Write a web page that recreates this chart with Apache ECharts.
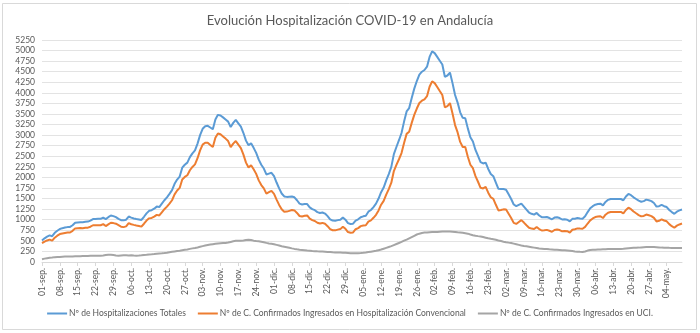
<!DOCTYPE html>
<html>
<head>
<meta charset="utf-8">
<script src="https://cdn.jsdelivr.net/npm/echarts@6/dist/echarts.min.js"></script>
<style>
html,body{margin:0;padding:0;background:#fff;}
#chart{width:700px;height:333px;}
</style>
</head>
<body>
<div id="chart"></div>
<script>
// Category construction: daily dates from 01-sep to 10-may
const monthNames = ['sep','oct','nov','dic','ene','feb','mar','abr','may'];
const monthDays  = [30, 31, 30, 31, 31, 28, 31, 30, 10];

// Weekly tick labels shown on the axis
const tickLabels = ['01-sep.','08-sep.','15-sep.','22-sep.','29-sep.','06-oct.','13-oct.','20-oct.','27-oct.',
  '03-nov.','10-nov.','17-nov.','24-nov.','01-dic.','08-dic.','15-dic.','22-dic.','29-dic.',
  '05-ene.','12-ene.','19-ene.','26-ene.','02-feb.','09-feb.','16-feb.','23-feb.',
  '02-mar.','09-mar.','16-mar.','23-mar.','30-mar.','06-abr.','13-abr.','20-abr.','27-abr.','04-may.'];

const seriesNames = ['Nº de Hospitalizaciones Totales',
  'Nº de C. Confirmados Ingresados en Hospitalización Convencional',
  'Nº de C. Confirmados Ingresados en UCI.'];

const totales = [
510,560,600,630,610,690,740,780,800,815,825,830,870,930,935,940,940,950,955,980,
1015,1015,1020,1020,1050,1015,1060,1100,1085,1060,1020,990,985,1000,1075,1050,1030,1015,1005,995,
1070,1150,1210,1225,1260,1310,1300,1380,1460,1530,1610,1700,1850,1950,2020,2230,2300,2350,2480,2570,
2640,2800,3000,3150,3210,3220,3180,3140,3370,3480,3465,3420,3370,3320,3190,3290,3360,3280,3200,3050,
2870,2760,2810,2700,2580,2420,2300,2210,2070,2090,2110,2030,1880,1740,1620,1550,1540,1545,1550,1530,
1460,1380,1360,1370,1370,1290,1250,1225,1180,1160,1170,1145,1085,1010,980,975,990,1000,1055,1000,
920,900,905,980,1010,1060,1080,1095,1190,1230,1300,1380,1500,1650,1760,1930,2080,2250,2550,2720,
2880,3050,3320,3560,3640,3880,4100,4280,4430,4500,4540,4620,4850,4980,4940,4850,4760,4670,4380,4410,
4480,4230,3950,3770,3540,3410,3400,3160,2950,2850,2650,2510,2360,2330,2350,2200,2080,2030,1880,1730,
1725,1725,1710,1600,1490,1360,1320,1350,1380,1310,1240,1170,1140,1120,1160,1100,1060,1060,1065,1040,
1010,1050,1060,1040,1005,1010,1000,960,1020,1025,1040,1030,1025,1080,1180,1270,1320,1355,1370,1380,
1340,1420,1470,1490,1490,1490,1490,1490,1460,1550,1610,1580,1530,1490,1450,1425,1440,1475,1460,1440,
1395,1310,1320,1350,1320,1300,1230,1180,1140,1190,1220,1240];

const convencional = [
445,480,510,530,505,575,622,660,675,687,695,698,737,795,799,802,800,808,812,835,
869,867,870,870,895,850,890,928,920,905,870,835,825,842,920,893,878,865,853,837,
905,980,1032,1043,1072,1115,1100,1175,1248,1310,1380,1460,1600,1690,1752,1952,2012,2052,2170,2248,
2308,2455,2640,2775,2822,2820,2768,2718,2938,3040,3020,2970,2918,2860,2715,2800,2860,2775,2695,2540,
2350,2233,2290,2195,2084,1930,1820,1742,1618,1650,1680,1610,1475,1350,1248,1190,1192,1210,1228,1220,
1160,1088,1075,1092,1100,1025,990,969,928,910,924,903,847,776,750,748,766,778,835,784,
708,692,700,775,802,848,862,870,955,985,1045,1115,1220,1355,1445,1595,1725,1875,2150,2295,
2430,2575,2815,3030,3080,3290,3480,3630,3760,3814,3845,3920,4145,4272,4230,4138,4042,3948,3656,3686,
3758,3512,3238,3065,2840,2720,2720,2490,2300,2218,2030,1898,1755,1740,1775,1640,1532,1492,1353,1220,
1230,1245,1242,1142,1041,925,900,945,990,932,870,810,790,780,830,780,745,750,760,740,
714,758,770,755,725,735,730,695,762,775,795,790,787,830,910,985,1030,1063,1075,1082,
1040,1118,1165,1183,1182,1180,1185,1185,1148,1230,1285,1250,1195,1152,1110,1080,1090,1123,1106,1086,
1043,960,975,1010,982,962,895,847,810,860,888,909];

const uci = [
65,80,90,100,105,115,118,120,125,128,130,132,133,135,136,138,140,142,143,145,
146,148,150,150,155,165,170,172,165,155,150,155,160,158,155,157,152,150,152,158,
165,170,178,182,188,195,200,205,212,220,230,240,250,260,268,278,288,298,310,322,
332,345,360,375,388,400,412,422,432,440,445,450,452,460,475,490,500,505,505,510,
520,527,520,505,496,490,480,468,452,440,430,420,405,390,372,360,348,335,322,310,
300,292,285,278,270,265,260,256,252,250,246,242,238,234,230,227,224,222,220,216,
212,208,205,205,208,212,218,225,235,245,255,265,280,295,315,335,355,375,400,425,
450,475,505,530,560,590,620,650,670,686,695,700,705,708,710,712,718,722,724,724,
722,718,712,705,700,690,680,670,650,632,620,612,605,590,575,560,548,538,527,510,
495,480,468,458,449,435,420,405,390,378,370,360,350,340,330,320,315,310,305,300,
296,292,290,285,280,275,270,265,258,250,245,240,238,250,270,285,290,292,295,298,
300,302,305,307,308,310,305,305,312,320,325,330,335,338,340,345,350,352,354,354,
352,350,345,340,338,338,335,333,330,330,332,331];

const categories = [];
monthNames.forEach((m, mi) => {
  for (let d = 1; d <= monthDays[mi]; d++) {
    categories.push((d < 10 ? '0' + d : '' + d) + '-' + m + '.');
  }
});

const FONT = 'Lato';
const TXT = '#595959';
const chart = echarts.init(document.getElementById('chart'), null, {renderer: 'canvas'});
chart.setOption({
  backgroundColor: '#ffffff',
  animation: false,
  textStyle: {fontFamily: FONT},
  graphic: [{
    type: 'rect', shape: {x: 2.5, y: 3.5, width: 694, height: 326},
    style: {fill: 'none', stroke: '#d9d9d9', lineWidth: 1}, z: -1
  }],
  title: {
    text: 'Evolución Hospitalización COVID-19 en Andalucía',
    left: 'center', top: 9,
    textStyle: {fontFamily: FONT, fontSize: 13, fontWeight: 'normal', color: TXT}
  },
  legend: {
    bottom: 10, left: 'center',
    icon: 'rect', itemWidth: 20, itemHeight: 2, itemGap: 12,
    textStyle: {fontFamily: FONT, fontSize: 8.5, color: TXT, padding: [0, 0, 0, -3]},
    data: seriesNames
  },
  grid: {left: 42, right: 18, top: 40, bottom: 71},
  xAxis: {
    type: 'category', data: categories, boundaryGap: false,
    axisLine: {lineStyle: {color: '#d9d9d9'}},
    axisTick: {interval: 6, length: 4, lineStyle: {color: '#d9d9d9'}},
    axisLabel: {
      interval: 6, rotate: 90, fontSize: 8.5, color: TXT, fontFamily: FONT, margin: 6,
      formatter: (v, i) => tickLabels[Math.round(i / 7)] || v
    }
  },
  yAxis: {
    type: 'value', min: 0, max: 5250, interval: 250,
    axisLine: {show: false}, axisTick: {show: false},
    axisLabel: {fontSize: 8.5, color: TXT, fontFamily: FONT, margin: 7,
      formatter: v => String(v)},
    splitLine: {lineStyle: {color: '#e3e3e3'}}
  },
  series: [
    {name: seriesNames[0], type: 'line', data: totales, symbol: 'none',
     lineStyle: {width: 2, color: '#5B9BD5'}, itemStyle: {color: '#5B9BD5'}},
    {name: seriesNames[1], type: 'line', data: convencional, symbol: 'none',
     lineStyle: {width: 2, color: '#ED7D31'}, itemStyle: {color: '#ED7D31'}},
    {name: seriesNames[2], type: 'line', data: uci, symbol: 'none',
     lineStyle: {width: 2, color: '#A5A5A5'}, itemStyle: {color: '#A5A5A5'}}
  ]
});
</script>
</body>
</html>
